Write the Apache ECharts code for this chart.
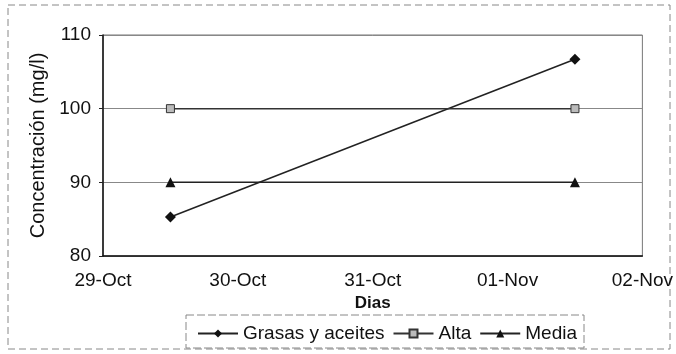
<!DOCTYPE html>
<html><head><meta charset="utf-8">
<script src="https://cdn.jsdelivr.net/npm/echarts@6/dist/echarts.min.js"></script>
<style>html,body{margin:0;padding:0;background:#fff}#c{width:676px;height:354px}</style>
</head><body><div id="c"></div>
<script>
const tickLabels = ['29-Oct','30-Oct','31-Oct','01-Nov','02-Nov'];
const sampleDays = [0.5, 3.5];
const grasas = [85.3, 106.7];
const alta = [100, 100];
const media = [90, 90];

const chart = echarts.init(document.getElementById('c'));
const pair = (xs, ys) => xs.map((x, i) => [x, ys[i]]);
const font = 'Liberation Sans, Arial, sans-serif';
chart.setOption({
  animation: false,
  graphic: [
    {type:'rect', shape:{x:8,y:5,width:662,height:344}, style:{fill:'none', stroke:'#888', lineWidth:1, lineDash:[7,4]}},
    {type:'rect', shape:{x:186,y:315,width:398,height:33}, style:{fill:'none', stroke:'#888', lineWidth:1, lineDash:[8,3]}}
  ],
  grid: {left:103, right:32, top:35, bottom:98, show:true, borderColor:'#777', borderWidth:1},
  xAxis: {
    type:'value', min:0, max:4, interval:1,
    name:'Dias', nameLocation:'middle', nameGap:38,
    nameTextStyle:{fontFamily:font, fontSize:17, fontWeight:'bold', color:'#111'},
    axisLine:{show:true, lineStyle:{color:'#111', width:1.5}}, axisTick:{show:false},
    splitLine:{show:false},
    axisLabel:{fontFamily:font, fontSize:19, color:'#111', margin:15, formatter:(v)=>tickLabels[Math.round(v)]}
  },
  yAxis: {
    type:'value', min:80, max:110, interval:10,
    name:'Concentración (mg/l)', nameLocation:'middle', nameGap:55,
    nameTextStyle:{fontFamily:font, fontSize:20, color:'#111'},
    axisLine:{show:true, lineStyle:{color:'#111', width:1.5}}, axisTick:{show:true, length:4, lineStyle:{color:'#222'}},
    splitLine:{show:true, lineStyle:{color:'#888', width:1}},
    axisLabel:{fontFamily:font, fontSize:19, color:'#111', margin:12}
  },
  legend: {
    top:319, left:192, itemGap:8, itemWidth:40, itemHeight:10,
    textStyle:{fontFamily:font, fontSize:19, color:'#111'},
    data:['Grasas y aceites','Alta','Media']
  },
  series: [
    {name:'Grasas y aceites', type:'line', data:pair(sampleDays, grasas), symbol:'diamond', symbolSize:11,
     lineStyle:{color:'#222', width:1.5}, itemStyle:{color:'#111'}},
    {name:'Alta', type:'line', data:pair(sampleDays, alta), symbol:'rect', symbolSize:8,
     lineStyle:{color:'#333', width:1.5}, itemStyle:{color:'#bbb', borderColor:'#333', borderWidth:1}},
    {name:'Media', type:'line', data:pair(sampleDays, media), symbol:'triangle', symbolSize:10,
     lineStyle:{color:'#222', width:1.5}, itemStyle:{color:'#111'}}
  ]
});
</script></body></html>
